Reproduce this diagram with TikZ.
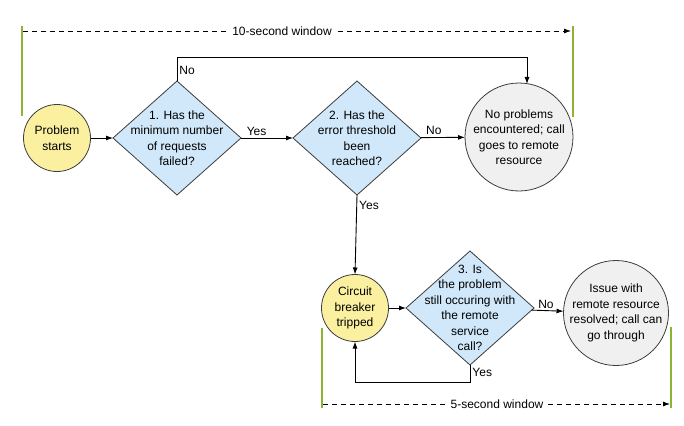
\documentclass[tikz,border=0pt]{standalone}
\usepackage{fontspec}
\setmainfont{Liberation Sans}
\usetikzlibrary{shapes.geometric,arrows.meta}
\definecolor{yel}{RGB}{250,240,160}
\definecolor{lblue}{RGB}{208,232,250}
\definecolor{lgrey}{RGB}{240,240,240}
\definecolor{barg}{RGB}{140,180,50}
\definecolor{edge}{RGB}{60,60,60}
\begin{document}
\begin{tikzpicture}[x=1pt,y=-1pt,
  font=\fontsize{12}{15.5}\selectfont,
  shp/.style={draw=edge, line width=0.8pt, inner sep=0pt, outer sep=0pt},
  startc/.style={shp, circle, fill=yel},
  endc/.style={shp, circle, fill=lgrey},
  dia/.style={shp, diamond, fill=lblue, minimum width=128pt, minimum height=114pt},
  txt/.style={align=center, inner sep=0pt},
  arr/.style={line width=0.9pt, -{Latex[length=7pt,width=5pt]}},
  lbl/.style={inner sep=2pt},
  bar/.style={barg, line width=2pt},
  win/.style={dashed, dash pattern=on 5pt off 4pt, line width=0.8pt, -{Latex[length=7pt,width=5pt]}}
]
\useasboundingbox (0,0) rectangle (684,425);

% green window bars
\draw[bar] (22,26) -- (22,116);
\draw[bar] (573,26) -- (573,117);
\draw[bar] (322,328) -- (322,408);
\draw[bar] (671,327) -- (671,408);
\coordinate (tl) at (23,31);
\coordinate (tr) at (571,31);
\coordinate (bl) at (323,404);
\coordinate (br) at (670,404);
\draw[win] (tl) -- (tr);
\node[fill=white, inner sep=3pt] (w10) at (282,31) {10-second window};
\draw[win] (bl) -- (br);
\node[fill=white, inner sep=3pt] (w5) at (497,404) {5-second window};

% nodes
\node[startc, minimum size=67pt, label={[txt]center:Problem\\starts}] (ps) at (57,138) {};
\node[dia, label={[txt]center:1. Has the\\minimum number\\of requests\\failed?}] (d1) at (177,138) {};
\node[dia, label={[txt]center:2. Has the\\error threshold\\been\\reached?}] (d2) at (357,138) {};
\node[endc, minimum size=108pt, label={[txt]center:No problems\\encountered; call\\goes to remote\\resource}] (np) at (519,137) {};
\node[startc, minimum size=67pt, label={[txt]center:Circuit\\breaker\\tripped}] (cb) at (355,308) {};
\node[dia, label={[txt]center:3. Is\\the problem\\still occuring with\\the remote\\service\\call?}] (d3) at (470,308) {};
\node[endc, minimum size=105pt, label={[txt]center:Issue with\\remote resource\\resolved; call can\\go through}] (iw) at (616,313) {};

% connectors
\draw[arr] (ps) -- (d1);
\draw[arr] (d1) -- node[lbl, pos=0.3, above] {Yes} (d2);
\draw[arr] (d2) -- node[lbl, pos=0.3, above] {No} (np);
\draw[arr] (d1.north) -- ++(0,-24) node[lbl, pos=0.45, right] {No} -| ([xshift=8pt, yshift=-1pt]np.north);
\draw[arr] (d2.south) -- node[lbl, pos=0.13, right] {Yes} (cb.north);
\draw[arr] (cb) -- (d3);
\draw[arr] (d3) -- node[lbl, pos=0.45, above] {No} (iw);
\draw[arr] (d3.south) -- ++(0,17) node[lbl, pos=0.45, right] {Yes} -| (cb.south);
\end{tikzpicture}
\end{document}
